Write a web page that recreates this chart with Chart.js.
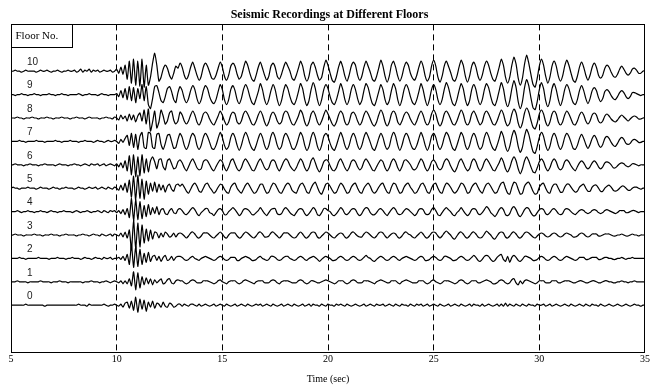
<!DOCTYPE html>
<html>
<head>
<meta charset="utf-8">
<title>Seismic Recordings at Different Floors</title>
<script src="https://cdn.jsdelivr.net/npm/chart.js@4.4.0/dist/chart.umd.min.js"></script>
<style>
  html, body { margin: 0; padding: 0; background: #fff; }
  #chart { display: block; }
</style>
</head>
<body>
<canvas id="chart" width="651" height="385"></canvas>
<script>
/* Seismic recordings at different floors — stacked traces */

// digitised records: one sample every 0.1 s from 5 s to 35 s (301 samples),
// amplitudes in plot units (positive = up)
const T0 = 5;
const DT = 0.1;
const X_TICKS = [5, 10, 15, 20, 25, 30, 35];
const FLOORS = [10, 9, 8, 7, 6, 5, 4, 3, 2, 1, 0];
const SPACING = 23.4;   // distance between floor baselines

const FLOOR_10 = [
  0,0,1,0,0,-1,0,1,0,0, 0,0,-1,0,1,0,0,1,0,-1, 0,0,1,0,-1,0,0,1,0,0, 1,-1,0,2,-1,1,0,2,-1,1, 0,1,-1,0,1,0,0,1,-1,0,
  2,-2,4,-3,6,-8,10,-12,12,-14, 10,-15,12,-16,6,-14,-6,8,18,6, -10,-6,2,6,3,-4,-8,-2,5,3,
  8,4,-4,-8,-4,4, 9,3,-4,-9,-5,4, 8,5,-1,-7,-8,-4,3,
  9,4,-5,-9,-4,5, 8,5,-3,-8,-5,3, 10,6,-2,-8,-10,-4,4,
  9,3,-4,-9,-5,5, 8,4,-5,-8,-3,4, 9,5,0,-7,-9,-4,3,
  10,5,-5,-10,-5,6, 9,4,-4,-9,-6,4, 11,6,-2,-9,-11,-5,4,
  10,4,-5,-10,-4,5, 9,6,-4,-9,-5,4, 10,5,-1,-8,-10,-5,3,
  11,5,-5,-11,-5,6, 10,4,-5,-10,-5,4, 9,6,-2,-7,-9,-4,4,
  10,5,-5,-10,-6,5, 11,5,-6,-11,-5,5, 10,5,-1,-8,-10,-5,4,
  11,6,-5,-11,-5,5, 9,4,-5,-9,-4,5, 10,6,-2,-8,-10,-4,4,
  12,6,-6,-12,-6,6, 14,7,-7,-14,-7,7, 16,8,-3,-13,-16,-7,5,
  12,6,-5,-12,-6,5, 10,5,-5,-10,-5,5, 11,6,-2,-9,-11,-5,4,
  9,4,-4,-9,-4,4, 8,4,-4,-7,-4,3, 6,4,-1,-5,-6,-3,2,
  5,2,-2,-4,-2,2, 3,1,-2,-2,0,1
];

const FLOOR_9 = [
  0,0,-1,0,0,1,0,0,-1,0, 0,1,0,0,-1,0,0,0,1,0, 0,-1,0,0,1,0,0,-1,0,0, 0,0,1,0,-1,0,0,1,0,0, 0,-1,0,1,0,0,-1,0,0,0,
  1,-2,4,-3,6,-5,8,-6,7,-8, 6,-4,10,-6,8,-10,-14,-4,8,9, 2,-6,-8,-2,6,8,3,-5,-8,2,
  8,4,-4,-8,-4,4, 9,5,-4,-9,-5,4, 9,6,-2,-7,-9,-5,3,
  10,5,-5,-10,-5,5, 9,4,-5,-9,-4,5, 10,6,-2,-8,-10,-4,3,
  11,5,-5,-10,-5,4, 10,5,-5,-11,-6,4, 10,6,-2,-8,-10,-5,3,
  11,6,-5,-11,-6,5, 12,6,-5,-11,-5,5, 10,6,-2,-8,-10,-5,3,
  11,5,-5,-10,-5,5, 10,5,-4,-10,-6,4, 11,7,-2,-9,-11,-5,3,
  10,5,-5,-10,-6,4, 11,6,-5,-11,-5,5, 10,6,-2,-8,-10,-5,3,
  11,5,-5,-11,-5,5, 10,5,-5,-10,-5,5, 12,7,-2,-9,-11,-5,4,
  11,6,-5,-11,-6,5, 10,5,-5,-10,-5,5, 11,7,-2,-9,-11,-5,4,
  12,6,-6,-12,-6,6, 14,7,-7,-14,-7,7, 15,9,-3,-13,-15,-7,5,
  12,6,-6,-12,-6,6, 11,5,-5,-11,-5,5, 10,6,-2,-8,-10,-5,4,
  9,4,-4,-9,-4,4, 7,4,-3,-7,-4,3, 5,3,-1,-4,-5,-2,2,
  4,2,-2,-4,-2,2, 2,1,0,-1,0,0
];

const FLOOR_8 = [
  0,0,0,1,0,0,-1,0,0,0, 1,0,0,-1,0,0,0,1,0,0, -1,0,0,0,1,0,0,0,-1,0, 0,1,0,0,0,-1,0,1,0,0, 0,0,-1,0,0,1,0,0,-1,1,
  0,-2,3,-1,2,-3,4,-2,3,-4, 2,5,-3,8,-6,9,-13,-4,7,-10, -4,8,2,-6,-3,5,7,-2,-6,-3,
  6,3,-3,-6,-3,3, 7,3,-4,-7,-3,4, 6,4,-1,-5,-7,-3,2,
  7,3,-3,-7,-4,3, 6,4,-4,-6,-3,4, 7,4,-1,-6,-7,-3,3,
  7,3,-4,-8,-4,3, 6,3,-3,-6,-4,4, 7,5,-1,-6,-7,-3,2,
  8,4,-4,-8,-4,4, 7,3,-4,-7,-3,3, 8,4,-1,-6,-8,-4,3,
  7,4,-4,-7,-4,4, 6,3,-3,-7,-4,3, 7,4,-1,-6,-8,-4,3,
  8,4,-4,-8,-4,4, 7,4,-4,-7,-3,3, 6,4,-1,-5,-7,-3,3,
  7,3,-4,-7,-4,4, 8,4,-4,-8,-4,4, 7,4,-1,-6,-7,-3,3,
  8,4,-4,-7,-4,4, 7,3,-3,-7,-4,4, 7,4,-1,-6,-7,-3,3,
  8,4,-4,-8,-5,4, 9,5,-5,-10,-5,5, 10,6,-2,-9,-11,-5,4,
  8,4,-4,-8,-4,4, 7,4,-4,-7,-4,3, 7,4,-1,-6,-7,-3,3,
  6,3,-3,-6,-3,3, 5,3,-3,-5,-3,2, 4,2,-1,-3,-4,-2,1,
  3,1,-1,-3,-1,1, 2,1,-1,-1,0,0
];

const FLOOR_7 = [
  0,0,0,0,1,0,0,-1,0,0, 0,0,1,0,0,0,-1,0,0,0, 0,1,0,0,-1,0,0,0,1,0, 0,0,-1,0,0,1,0,0,0,-1, 0,1,0,0,-1,0,1,0,0,1,
  0,-2,2,-1,3,6,-4,8,-6,7, -8,5,9,-6,-7,9,8,-6,-7,7, 8,-3,-8,-2,6,7,0,-7,-6,2,
  8,4,-4,-8,-4,4, 8,5,-4,-8,-4,4, 8,5,-1,-7,-8,-4,3,
  9,4,-4,-8,-5,4, 8,4,-4,-9,-4,4, 9,5,-2,-7,-9,-4,3,
  8,4,-4,-8,-4,5, 9,4,-4,-8,-5,4, 8,5,-1,-7,-8,-4,3,
  9,5,-4,-9,-5,4, 9,4,-5,-9,-4,5, 8,5,-2,-7,-9,-4,3,
  9,4,-4,-8,-4,4, 8,4,-4,-8,-4,4, 9,5,-1,-7,-9,-4,3,
  8,4,-4,-8,-5,4, 9,5,-4,-9,-4,4, 8,5,-2,-7,-8,-4,3,
  9,4,-4,-9,-4,5, 8,4,-4,-8,-4,4, 9,6,-1,-7,-9,-4,3,
  9,5,-4,-8,-4,4, 8,4,-4,-8,-5,4, 9,5,-2,-7,-9,-4,3,
  10,5,-5,-10,-5,5, 11,6,-5,-11,-6,5, 12,7,-2,-10,-12,-5,4,
  9,5,-4,-9,-5,4, 8,4,-4,-8,-4,4, 8,5,-1,-7,-8,-4,3,
  7,3,-3,-7,-3,3, 6,3,-3,-6,-3,3, 5,3,-1,-4,-5,-2,2,
  4,2,-2,-3,-2,1, 2,1,-1,-1,0,0
];

const FLOOR_6 = [
  0,0,1,0,0,0,-1,0,0,1, 0,0,0,-1,0,0,1,0,0,0, 0,-1,0,1,0,0,0,-1,0,0, 1,0,0,-1,0,1,0,-1,1,0, 0,1,-1,0,1,-1,0,1,0,-1,
  1,-2,2,-3,4,-6,9,-10,10,-12, 8,-11,10,-8,6,-7,4,8,3,-4, 5,6,-2,-5,4,6,1,-4,-3,3,
  5,2,-3,-6,-2,3, 6,2,-3,-5,-4,3, 5,4,0,-4,-6,-2,2,
  5,3,-3,-6,-2,4, 6,1,-4,-6,-3,3, 6,3,-1,-5,-6,-2,3,
  6,2,-3,-5,-3,3, 5,3,-3,-6,-2,3, 6,4,-1,-4,-6,-3,2,
  6,3,-3,-6,-3,4, 7,2,-4,-7,-3,3, 5,4,-1,-5,-6,-3,3,
  6,2,-3,-6,-3,3, 5,3,-2,-5,-3,3, 6,3,-1,-5,-6,-2,2,
  5,3,-3,-6,-3,3, 6,3,-3,-6,-2,4, 5,3,0,-4,-5,-3,2,
  6,3,-3,-6,-3,3, 5,2,-3,-5,-3,3, 6,4,-1,-5,-7,-3,3,
  6,2,-3,-6,-4,3, 6,3,-3,-6,-3,3, 6,3,-1,-5,-6,-2,2,
  7,3,-4,-7,-3,4, 8,4,-4,-9,-4,4, 8,4,-2,-7,-8,-3,3,
  6,3,-3,-6,-3,3, 6,3,-3,-5,-3,3, 5,3,-1,-4,-6,-2,2,
  4,2,-2,-4,-2,2, 4,2,-2,-4,-2,2, 3,2,0,-3,-3,-1,1,
  2,1,-1,-2,-1,1, 1,0,-1,0,0,0
];

const FLOOR_5 = [
  0,1,0,0,-1,0,0,0,1,0, 0,0,-1,0,1,0,0,0,-1,0, 1,0,0,-1,0,0,1,0,0,0, -1,0,1,0,0,-1,0,1,0,0, 1,-1,0,1,0,-1,1,0,-1,1,
  0,-2,3,-2,5,-4,8,-9,12,-12, 13,-10,9,-11,7,-6,5,-3,6,-4, 4,-2,3,-4,2,4,-1,-3,3,4,
  2,4,1,-3,-5,-1, 3,5,2,-3,-4,0, 4,5,1,-2,-5,-3,1,
  4,3,-1,-4,-5,1, 4,5,0,-3,-5,-1, 3,5,2,-2,-5,-4,0,
  4,4,-1,-5,-4,1, 5,4,0,-4,-5,-1, 3,5,3,-2,-4,-5,0,
  4,5,1,-4,-5,0, 4,6,1,-4,-6,-1, 4,5,2,-2,-5,-4,1,
  5,3,-1,-5,-4,1, 4,5,0,-4,-5,0, 3,5,2,-3,-5,-3,1,
  4,5,0,-4,-5,1, 5,4,-1,-5,-4,1, 4,5,1,-2,-5,-4,0,
  4,5,1,-4,-5,0, 4,5,0,-4,-5,1, 5,4,1,-3,-5,-3,1,
  5,4,0,-5,-4,1, 4,5,1,-3,-5,0, 4,5,2,-2,-5,-4,1,
  5,6,0,-5,-6,1, 6,5,-1,-6,-5,2, 5,6,2,-3,-6,-5,1,
  4,5,0,-4,-5,1, 4,4,0,-4,-4,1, 4,4,1,-2,-4,-3,1,
  3,4,0,-3,-3,1, 3,3,0,-3,-3,0, 2,3,1,-2,-3,-2,0,
  2,2,0,-2,-2,0, 1,1,0,-1,0,0
];

const FLOOR_4 = [
  0,0,0,1,0,-1,0,0,1,0, 0,-1,0,0,1,0,0,-1,0,1, 0,0,-1,0,0,1,0,0,0,-1, 0,1,0,-1,0,0,1,0,-1,0, 0,1,0,-1,1,0,-1,1,0,1,
  -1,1,-2,2,-3,3,-6,13,-9,12, -8,10,-7,6,-5,7,-3,4,-2,5, -3,2,3,-2,-3,1,3,-1,-2,2,
  3,1,-2,-3,-1,2, 4,2,-2,-4,-1,1, 3,3,-1,-2,-4,-1,2,
  3,1,-3,-3,0,2, 4,2,-1,-4,-2,2, 3,2,0,-3,-3,-1,1,
  4,1,-2,-4,-1,2, 3,3,-2,-3,-2,2, 4,2,-1,-3,-4,-1,2,
  3,2,-2,-4,-2,1, 4,2,-3,-4,-1,3, 3,1,0,-3,-4,-2,1,
  4,2,-2,-3,-1,2, 3,2,-2,-4,-2,2, 4,3,-1,-3,-3,-1,2,
  3,1,-2,-4,-1,2, 4,2,-2,-3,-2,1, 3,2,0,-2,-4,-2,2,
  3,2,-2,-3,-2,2, 4,1,-3,-4,-1,2, 4,2,0,-3,-4,-1,1,
  4,1,-2,-4,-2,2, 3,2,-2,-3,-1,2, 5,3,-1,-3,-5,-2,2,
  4,2,-3,-4,-2,3, 5,2,-3,-5,-2,2, 4,3,-1,-4,-4,-1,2,
  3,2,-2,-3,-1,2, 3,1,-2,-3,-2,2, 3,2,0,-2,-3,-1,1,
  2,1,-1,-2,-1,1, 2,1,-1,-2,-1,1, 2,1,0,-1,-2,-1,1,
  1,1,-1,-1,0,1, 1,0,-1,0,0,0
];

const FLOOR_3 = [
  0,0,1,0,0,0,-1,0,0,0, 0,1,0,0,0,-1,0,0,0,1, 0,0,0,-1,0,0,1,0,0,0, 0,-1,0,0,1,0,0,-1,0,1, 0,0,-1,1,0,-1,0,1,-1,1,
  0,-1,2,-2,3,-3,5,-15,15,-14, 12,-12,10,-8,6,-6,5,-4,3,2, -3,2,-2,3,1,-2,-1,2,-2,1,
  2,1,-1,-3,-1,2, 3,1,-2,-3,-1,2, 2,2,0,-2,-3,-1,1,
  3,1,-2,-3,0,2, 2,2,-1,-3,-2,1, 3,2,0,-2,-3,-1,2,
  3,1,-2,-2,-1,2, 3,1,-1,-3,-1,2, 2,2,0,-2,-3,-2,1,
  3,1,-2,-3,-1,2, 3,2,-2,-3,-1,1, 3,2,0,-2,-3,-1,1,
  2,1,-2,-3,-1,2, 3,1,-1,-2,-2,1, 3,2,0,-2,-3,-1,2,
  3,2,-1,-3,-1,1, 2,1,-2,-3,-1,2, 3,1,0,-2,-3,-1,1,
  3,1,-2,-3,-1,2, 3,2,-1,-3,-1,2, 4,2,0,-3,-4,-1,2,
  3,1,-2,-3,-1,2, 3,1,-2,-3,-2,1, 4,2,0,-3,-4,-1,2,
  3,2,-2,-3,-1,2, 3,1,-2,-3,-1,2, 3,2,0,-2,-3,-1,1,
  2,1,-1,-2,-1,1, 2,1,-1,-2,-1,1, 2,1,0,-2,-2,-1,1,
  2,1,-1,-2,-1,1, 1,1,-1,-1,0,1, 1,1,0,-1,-1,0,0,
  1,0,-1,-1,0,1, 0,0,-1,0,0,0
];

const FLOOR_2 = [
  0,0,0,0,1,0,0,-1,0,0, 0,0,0,1,0,0,0,0,-1,0, 0,0,1,0,0,0,-1,0,0,1, 0,0,0,-1,0,1,0,0,-1,0, 1,0,0,-1,1,0,0,1,-1,0,
  0,1,-1,2,-2,4,-6,14,-9,12, -8,9,-6,5,-4,6,-3,2,3,-2, 2,-3,1,3,-2,-1,2,-2,1,2,
  2,1,-1,-2,-1,1, 2,0,-1,-2,0,1, 2,1,0,-1,-2,-1,1,
  2,1,-1,-2,-1,1, 1,1,-2,-2,0,1, 2,1,0,-2,-2,-1,1,
  2,0,-1,-2,-1,2, 2,1,-1,-2,-1,1, 2,2,0,-1,-2,-1,1,
  2,1,-1,-2,0,1, 2,1,-1,-3,-1,1, 2,1,0,-2,-2,-1,1,
  2,1,-1,-2,-1,1, 2,1,-1,-2,-1,1, 3,1,0,-2,-3,-1,1,
  2,1,-1,-2,-1,1, 2,1,-1,-2,0,1, 2,1,0,-1,-2,-1,1,
  2,1,-2,-2,-1,1, 2,1,-1,-2,-1,2, 2,1,0,-2,-2,-1,1,
  2,1,-1,-2,-1,1, 3,1,-2,-3,-1,2, 3,2,-1,-3,-2,1,3,
  4,-1,-3,2,-4,1, 3,1,-2,-3,-1,2, 2,1,0,-2,-2,-1,1,
  2,1,-1,-2,-1,1, 2,1,-1,-2,-1,1, 2,1,0,-1,-2,-1,1,
  1,1,-1,-1,0,1, 1,1,-1,-1,0,1, 1,0,0,-1,-1,0,0,
  1,0,-1,0,0,1, 0,0,0,0,0,0
];

const FLOOR_1 = [
  0,0,0,1,0,0,0,0,-1,0, 0,0,0,0,1,0,0,0,0,-1, 0,0,0,1,0,0,0,-1,0,0, 0,0,0,0,-1,0,0,0,1,0, 0,0,-1,0,0,1,0,-1,0,1,
  0,-1,1,-2,1,-2,3,-4,10,-8, 9,-6,5,-3,4,-2,3,-3,2,-1, 1,3,-2,-1,2,3,-1,-2,1,2,
  1,1,-1,-2,-1,1, 2,1,-1,-1,-1,1, 1,1,0,-1,-2,-1,1,
  2,0,-1,-2,0,1, 1,1,-1,-2,-1,1, 2,1,0,-1,-2,0,1,
  1,1,-1,-1,-1,1, 2,1,-1,-2,0,1, 1,1,0,-1,-1,-1,1,
  2,1,-1,-2,-1,1, 1,0,-1,-1,0,1, 2,1,0,-1,-2,-1,1,
  1,1,-1,-2,-1,1, 2,1,-1,-1,-1,1, 1,1,0,-1,-2,0,1,
  2,1,0,-1,-1,1, 1,1,-1,-2,0,1, 2,1,0,-1,-1,-1,1,
  1,1,-1,-2,-1,1, 2,0,-1,-2,-1,1, 1,1,0,-1,-2,-1,1,
  2,1,-1,-2,-1,1, 1,1,-1,-1,0,1, 2,1,0,-2,-2,-1,1,
  2,1,-1,-2,-1,2, 3,-1,-3,1,-2,1, 2,1,0,-1,-2,-1,1,
  1,1,-1,-1,-1,1, 1,1,-1,-1,0,1, 1,1,0,-1,-1,0,1,
  1,0,-1,-1,0,1, 1,0,-1,-1,0,1, 1,0,0,-1,-1,0,0,
  1,0,0,-1,0,0, 1,0,0,0,0,0
];

const FLOOR_0 = [
  0,0,0,0,0,0,0,1,0,0, 0,0,0,0,0,0,-1,0,0,0, 0,0,0,0,0,0,0,0,0,0, 0,0,1,0,0,0,-1,1,0,0, 0,0,0,0,1,0,-1,0,0,1,
  0,-1,1,-2,2,3,-3,4,-5,8, -7,6,-4,5,-6,3,-2,4,-3,2, 1,-2,3,-1,-2,2,1,-2,-1,1,
  1,-1,1,0,-1,1, 1,0,-1,1,-1,0, 1,0,-1,0,1,-1,0,
  1,0,-1,1,0,-1, 0,1,-1,0,1,0, -1,1,0,-1,0,1,0,
  1,-1,0,1,0,-1, 1,0,-1,0,1,-1, 0,1,0,-1,1,0,-1,
  0,1,-1,0,1,-1, 1,0,0,-1,1,0, -1,1,0,0,-1,1,0,
  1,0,-1,1,0,-1, 0,1,0,-1,0,1, -1,0,1,0,-1,1,0,
  0,1,-1,0,1,0, -1,1,0,-1,1,0, 0,-1,1,0,-1,1,0,
  1,-1,0,1,-1,0, 1,0,-1,1,0,-1, 0,1,-1,0,1,0,-1,
  1,0,-1,0,1,-1, 1,0,0,-1,1,-1, 0,1,0,-1,0,1,-1,
  1,-1,2,-1,1,0, -1,1,0,-1,1,0, -1,1,0,0,-1,1,0,
  0,1,-1,0,1,-1, 0,1,0,-1,0,1, 0,-1,1,0,-1,0,1,
  0,-1,1,0,-1,1, 0,0,-1,1,0,-1, 0,1,0,-1,0,1,0,
  -1,0,1,0,-1,0, 1,0,0,-1,0,0
];

const TRACES = [FLOOR_10, FLOOR_9, FLOOR_8, FLOOR_7, FLOOR_6, FLOOR_5,
                FLOOR_4, FLOOR_3, FLOOR_2, FLOOR_1, FLOOR_0];

const SERIF = '"Liberation Serif", "Times New Roman", serif';

// each record is drawn around its own floor baseline
const datasets = TRACES.map((rec, k) => ({
  label: 'Floor ' + FLOORS[k],
  data: rec.map((v, i) => ({ x: T0 + i * DT, y: FLOORS[k] * SPACING + v })),
  borderColor: '#000',
  borderWidth: 1.2,
  pointRadius: 0,
  tension: 0.2,
  fill: false,
}));

// floor numbers, "Floor No." box and the axes frame
const floorLabels = {
  id: 'floorLabels',
  afterDatasetsDraw(chart) {
    const { ctx, chartArea: a, scales: { y } } = chart;
    const left = Math.round(a.left) + 0.5;
    const top = Math.round(a.top) + 0.5;
    ctx.save();
    ctx.font = '10px "Liberation Sans", Arial, sans-serif';
    ctx.fillStyle = '#1a1a1a';
    ctx.textBaseline = 'middle';
    ctx.textAlign = 'left';
    FLOORS.forEach(f => ctx.fillText(String(f), a.left + 16, y.getPixelForValue(f * SPACING) - 9));

    ctx.fillStyle = '#fff';
    ctx.fillRect(left, top, 61, 23);
    ctx.strokeStyle = '#000';
    ctx.lineWidth = 1;
    ctx.strokeRect(left, top, 61, 23);
    ctx.fillStyle = '#000';
    ctx.font = '11px ' + SERIF;
    ctx.fillText('Floor No.', left + 4, top + 12);

    ctx.strokeRect(left, top, Math.round(a.right - a.left) - 1, Math.round(a.bottom - a.top));
    ctx.restore();
  }
};

new Chart(document.getElementById('chart'), {
  type: 'line',
  data: { datasets },
  options: {
    responsive: false,
    animation: false,
    devicePixelRatio: 1,
    layout: { padding: { left: 11, right: 3, top: 0, bottom: 0 }, autoPadding: false },
    plugins: {
      legend: { display: false },
      tooltip: { enabled: false },
      title: {
        display: true,
        text: 'Seismic Recordings at Different Floors',
        color: '#000',
        font: { family: SERIF, size: 12, weight: 'bold' },
        padding: { top: 8, bottom: 2 }
      }
    },
    scales: {
      x: {
        type: 'linear',
        min: X_TICKS[0],
        max: X_TICKS[X_TICKS.length - 1],
        afterBuildTicks: s => { s.ticks = X_TICKS.map(v => ({ value: v })); },
        ticks: { color: '#000', padding: 1, font: { family: SERIF, size: 10 } },
        grid: {
          drawTicks: false,
          lineWidth: 1,
          color: c => (c.tick && (c.tick.value === 5 || c.tick.value === 35)) ? 'rgba(0,0,0,0)' : '#000'
        },
        border: { display: false, dash: [6, 4] },
        title: {
          display: true,
          text: 'Time (sec)',
          color: '#000',
          font: { family: SERIF, size: 10 },
          padding: { top: 7, bottom: 0 }
        }
      },
      y: {
        display: false,
        min: -2 * SPACING,
        max: 12 * SPACING
      }
    }
  },
  plugins: [floorLabels]
});
</script>
</body>
</html>
